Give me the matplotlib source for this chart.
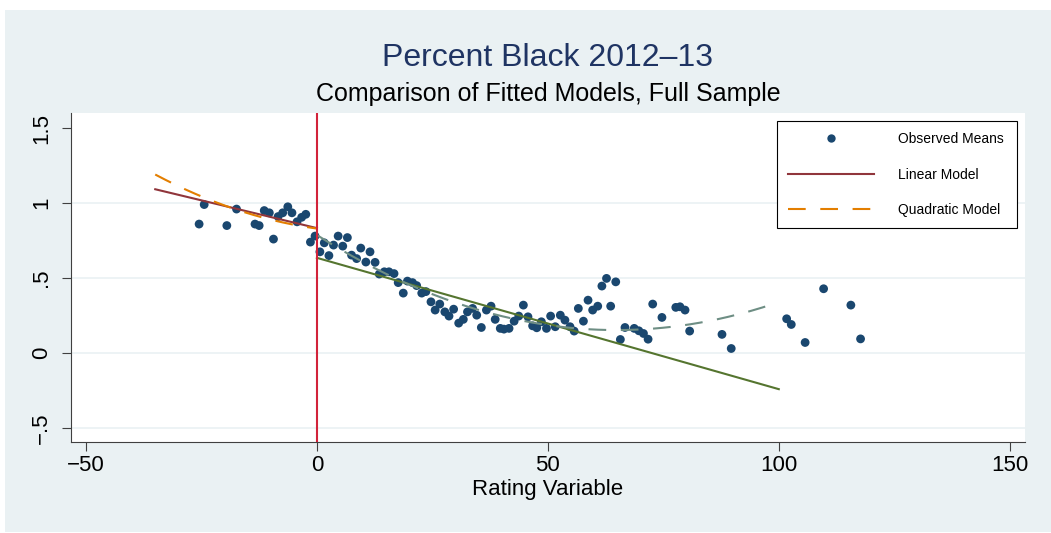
import numpy as np
import matplotlib.pyplot as plt
from matplotlib.patches import Rectangle
from matplotlib.lines import Line2D

# binned means of the outcome by rating variable
rating_bins = [-25.5, -24.4, -19.5, -17.4, -13.4, -12.5, -11.4, -10.3, -9.4, -8.4,
               -7.4, -6.3, -5.4, -4.3, -3.3, -2.4, -1.4, -0.4,
               0.65, 1.6, 2.6, 3.6, 4.6, 5.6, 6.6, 7.5, 8.6, 9.5, 10.6, 11.5,
               12.6, 13.5, 14.6, 15.6, 16.7, 17.6, 18.7, 19.6, 20.7, 21.6,
               22.7, 23.6, 24.7, 25.6, 26.6, 27.7, 28.6, 29.6, 30.7, 31.7,
               32.6, 33.7, 34.6, 35.6, 36.7, 37.7, 38.6, 39.7, 40.5, 41.6,
               42.7, 43.7, 44.7, 45.7, 46.7, 47.6, 48.6, 49.7, 50.6, 51.6,
               52.7, 53.7, 54.8, 55.7, 56.6, 57.7, 58.7, 59.7, 60.8, 61.7,
               62.7, 63.6, 64.7, 65.7, 66.7, 68.7, 69.7, 70.7, 71.7, 72.7,
               74.7, 77.7, 78.6, 79.7, 80.7, 87.7, 89.7, 101.7, 102.7, 105.7,
               109.7, 115.6, 117.7]
pct_black = [0.86, 0.99, 0.85, 0.96, 0.86, 0.85, 0.95, 0.935, 0.76, 0.91,
             0.935, 0.975, 0.935, 0.875, 0.905, 0.925, 0.74, 0.78,
             0.675, 0.735, 0.65, 0.72, 0.78, 0.713, 0.77, 0.653, 0.63, 0.70, 0.607, 0.675,
             0.605, 0.527, 0.542, 0.542, 0.53, 0.47, 0.40, 0.48, 0.47, 0.45,
             0.40, 0.41, 0.342, 0.287, 0.327, 0.275, 0.247, 0.293, 0.20, 0.225,
             0.275, 0.298, 0.253, 0.171, 0.287, 0.313, 0.225, 0.165, 0.16, 0.165,
             0.213, 0.247, 0.32, 0.242, 0.182, 0.169, 0.209, 0.165, 0.247, 0.176,
             0.253, 0.22, 0.176, 0.147, 0.298, 0.213, 0.353, 0.287, 0.313, 0.447,
             0.498, 0.313, 0.475, 0.091, 0.171, 0.165, 0.149, 0.131, 0.093, 0.327,
             0.238, 0.305, 0.309, 0.287, 0.147, 0.125, 0.031, 0.229, 0.191, 0.071,
             0.429, 0.32, 0.095]

# fitted coefficients (intercept, slope, square) on each side of the cutoff
left_range = [-35, 0]
right_range = [0, 100]
left_linear = [0.833, -0.0074, 0.0]
left_quad = [0.83, -0.00425, 0.0001725]
right_linear = [0.635, -0.00875, 0.0]
right_quad = [0.787, -0.01953, 0.0001506]

yticks = [-0.5, 0, 0.5, 1, 1.5]
ytick_labels = ['\u2212.5', '0', '.5', '1', '1.5']
xticks = [-50, 0, 50, 100, 150]
xtick_labels = ['\u221250', '0', '50', '100', '150']
grid_levels = [-0.5, 0, 0.5, 1]

navy = '#1a476f'
maroon = '#90353b'
dkorange = '#e37e00'
forest = '#55752f'
teal = '#6e8e84'
bg = '#eaf1f3'

plt.rcParams['font.family'] = ['Liberation Sans', 'DejaVu Sans']

fig = plt.figure(figsize=(10.51, 5.33), dpi=100, facecolor='white')
fig.patches.append(Rectangle((5 / 1051, 1 / 533), 1.0, 522 / 533,
                             transform=fig.transFigure, facecolor=bg,
                             edgecolor='none', zorder=-10))
ax = fig.add_axes([70.7 / 1051, 90.7 / 533, 954.3 / 1051, 329.3 / 533])
ax.set_facecolor('white')


def curve(coef, lo, hi):
    xs = np.linspace(lo, hi, 200)
    return xs, coef[0] + coef[1] * xs + coef[2] * xs ** 2


for g in grid_levels:
    ax.axhline(g, color=bg, lw=1.2, zorder=1)

ax.scatter(rating_bins, pct_black, s=40, color=navy, edgecolors='none', zorder=3)

dash = (8.5, 7)
x, y = curve(left_linear, *left_range)
lin_line, = ax.plot(x, y, color=maroon, lw=1.5, zorder=4)
x, y = curve(left_quad, *left_range)
quad_line, = ax.plot(x, y, color=dkorange, lw=1.5, dashes=dash, zorder=4)
x, y = curve(right_linear, *right_range)
ax.plot(x, y, color=forest, lw=1.5, zorder=4)
x, y = curve(right_quad, *right_range)
ax.plot(x, y, color=teal, lw=1.5, dashes=dash, zorder=4)

ax.axvline(0, color='#d2233a', lw=1.5, zorder=5)

ax.set_xlim(-53.3, 153.3)
ax.set_ylim(-0.594, 1.6)
ax.set_xticks(xticks)
ax.set_xticklabels(xtick_labels)
ax.set_yticks(yticks)
ax.set_yticklabels(ytick_labels, rotation=90, va='center')

for side in ['top', 'right']:
    ax.spines[side].set_visible(False)
for side in ['left', 'bottom']:
    ax.spines[side].set_color('#404040')
    ax.spines[side].set_linewidth(0.8)
ax.tick_params(axis='both', length=6.5, width=0.8, color='#404040', labelsize=16)
ax.tick_params(axis='x', pad=3)
ax.tick_params(axis='y', pad=7)
ax.set_xlabel('Rating Variable', fontsize=16, labelpad=2)

fig.text(0.5213, 0.876, 'Percent Black 2012\u201313', ha='center', va='baseline',
         fontsize=23, color='#1f3463')
fig.text(0.5213, 0.8105, 'Comparison of Fitted Models, Full Sample', ha='center',
         va='baseline', fontsize=18, color='black')

dot = Line2D([], [], ls='none', marker='o', ms=6, color=navy, markeredgewidth=0)
leg = ax.legend([dot, lin_line, quad_line],
                ['Observed Means', 'Linear Model', 'Quadratic Model'],
                loc='upper left', bbox_to_anchor=(0.740, 0.9757, 0.2516, 0.0),
                mode='expand', borderaxespad=0, fontsize=10, handlelength=6.2,
                handletextpad=1.7, labelspacing=1.55, borderpad=0.8,
                fancybox=False, framealpha=1, edgecolor='black')
leg.get_frame().set_linewidth(0.8)
leg.set_zorder(10)

fig.savefig('out.png', dpi=100, facecolor=fig.get_facecolor())
